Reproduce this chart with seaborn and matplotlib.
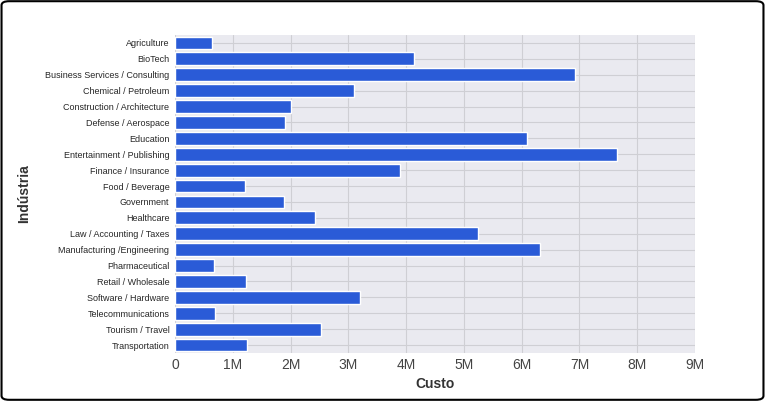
import matplotlib
matplotlib.use("Agg")
import matplotlib.pyplot as plt
import seaborn as sns
import pandas as pd
from matplotlib.ticker import FuncFormatter, MultipleLocator
from matplotlib.patches import FancyBboxPatch

categories = ["Agriculture","BioTech","Business Services / Consulting","Chemical / Petroleum",
 "Construction / Architecture","Defense / Aerospace","Education","Entertainment / Publishing",
 "Finance / Insurance","Food / Beverage","Government","Healthcare","Law / Accounting / Taxes",
 "Manufacturing /Engineering","Pharmaceutical","Retail / Wholesale","Software / Hardware",
 "Telecommunications","Tourism / Travel","Transportation"]
values = [0.64,4.14,6.92,3.1,2.0,1.9,6.1,7.65,3.9,1.21,1.89,2.42,5.24,6.31,0.67,1.23,3.2,0.69,2.53,1.25]
values = [v*1e6 for v in values]
df = pd.DataFrame({"Indústria": categories, "Custo": values})

sns.set_style("darkgrid", {"axes.facecolor": "#eaeaf0", "grid.color": "#cfcfd4"})
plt.rcParams['font.family'] = ['Liberation Sans', 'DejaVu Sans']
fig = plt.figure(figsize=(7.65, 4.01), dpi=100)
ax = fig.add_axes([175/765, 1-353/401, 520/765, 318/401])
sns.barplot(data=df, y="Indústria", x="Custo", color="#2a5bd7", saturation=1, width=0.8, ax=ax)
ax.set_xlim(0, 9e6)
ax.xaxis.set_major_locator(MultipleLocator(1e6))
ax.xaxis.set_major_formatter(FuncFormatter(lambda v, p: "0" if v == 0 else f"{int(v/1e6)}M"))
ax.tick_params(axis="y", labelsize=6.5, pad=4, length=0)
ax.tick_params(axis="x", labelsize=10, colors="#444444", length=0)
ax.set_xlabel("Custo", fontsize=10, fontweight="bold", color="#333333")
ax.set_ylabel("Indústria", fontsize=10, fontweight="bold", color="#333333", labelpad=10)
for s in ax.spines.values():
    s.set_visible(False)
ax.grid(True, axis="both")
fig.patches.append(FancyBboxPatch((0.002, 0.003), 0.996, 0.994, boxstyle="round,pad=0,rounding_size=0.01",
    transform=fig.transFigure, fill=False, edgecolor="black", linewidth=1.5))
fig.savefig("out.png", dpi=100)
